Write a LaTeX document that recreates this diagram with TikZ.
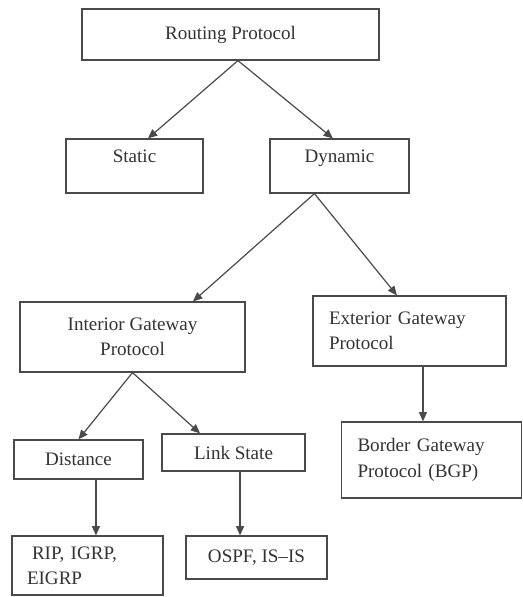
\documentclass[tikz,border=0pt]{standalone}
\usepackage{fontspec}
\setmainfont{Liberation Serif}
\usetikzlibrary{arrows.meta}
\definecolor{linegray}{HTML}{4A4A4A}
\definecolor{textgray}{HTML}{333333}
\tikzset{
  box/.style={draw=linegray, line width=0.9pt, rectangle, text=textgray,
    font=\fontsize{14.3}{19}\selectfont, inner sep=2pt, align=center},
  leftbox/.style={box, align=left, inner xsep=12pt},
  arr/.style={draw=linegray, line width=0.9pt, -{Triangle[length=7pt,width=6pt]}},
}
\begin{document}
\begin{tikzpicture}[x=0.75pt,y=-0.75pt]
\useasboundingbox (0,0) rectangle (523,597);
% boxes
\node[box, minimum width=222.75pt, minimum height=38.25pt] (route) at (230.5,34.5) {Routing Protocol};
\node[box, minimum width=102.75pt, minimum height=40.5pt, text height=10pt, text depth=15.6pt] (static) at (134.5,166) {Static};
\node[box, minimum width=104.25pt, minimum height=40.5pt, text height=10pt, text depth=15.6pt] (dynamic) at (339.5,166) {Dynamic};
\node[box, minimum width=168.75pt, minimum height=52.5pt] (igp) at (132.5,337) {Interior Gateway\\Protocol};
\node[leftbox, minimum width=144.75pt, text width=120.75pt, minimum height=52.5pt] (egp) at (409.5,331) {Exterior Gateway\\Protocol};
\node[box, minimum width=96.75pt, minimum height=29.25pt] (dist) at (78.5,459.5) {Distance};
\node[box, minimum width=107.25pt, minimum height=27.75pt] (link) at (233.5,452.5) {Link State};
\node[leftbox, inner xsep=11.25pt, minimum width=113.25pt, text width=90.75pt, minimum height=44.25pt] (rip) at (87.5,565.5) {\hspace*{3.75pt}RIP, IGRP,\\EIGRP};
\node[box, minimum width=105.75pt, minimum height=32.25pt] (ospf) at (256.5,557.5) {OSPF, IS--IS};
\node[leftbox, minimum width=135pt, text width=111pt, minimum height=57pt] (bgp) at (431.5,460) {Border Gateway\\Protocol (BGP)};
% connectors
\draw[arr] ([xshift=5.6pt]route.south) -- ([xshift=10.1pt]static.north);
\draw[arr] ([xshift=5.6pt]route.south) -- ([xshift=-4.9pt]dynamic.north);
\draw[arr] ([xshift=-18.8pt]dynamic.south) -- ([xshift=45.4pt]igp.north);
\draw[arr] ([xshift=-18.8pt]dynamic.south) -- ([xshift=-9.4pt]egp.north);
\draw[arr] (igp.south) -- (dist.north);
\draw[arr] (igp.south) -- ([xshift=-25.1pt]link.north);
\draw[arr] ([xshift=13.1pt]dist.south) coordinate (d1) -- (d1 |- rip.north);
\draw[arr] ([xshift=4.9pt]link.south) coordinate (l1) -- (l1 |- ospf.north);
\draw[arr] ([xshift=10.1pt]egp.south) coordinate (e1) -- (e1 |- bgp.north);
\end{tikzpicture}
\end{document}
